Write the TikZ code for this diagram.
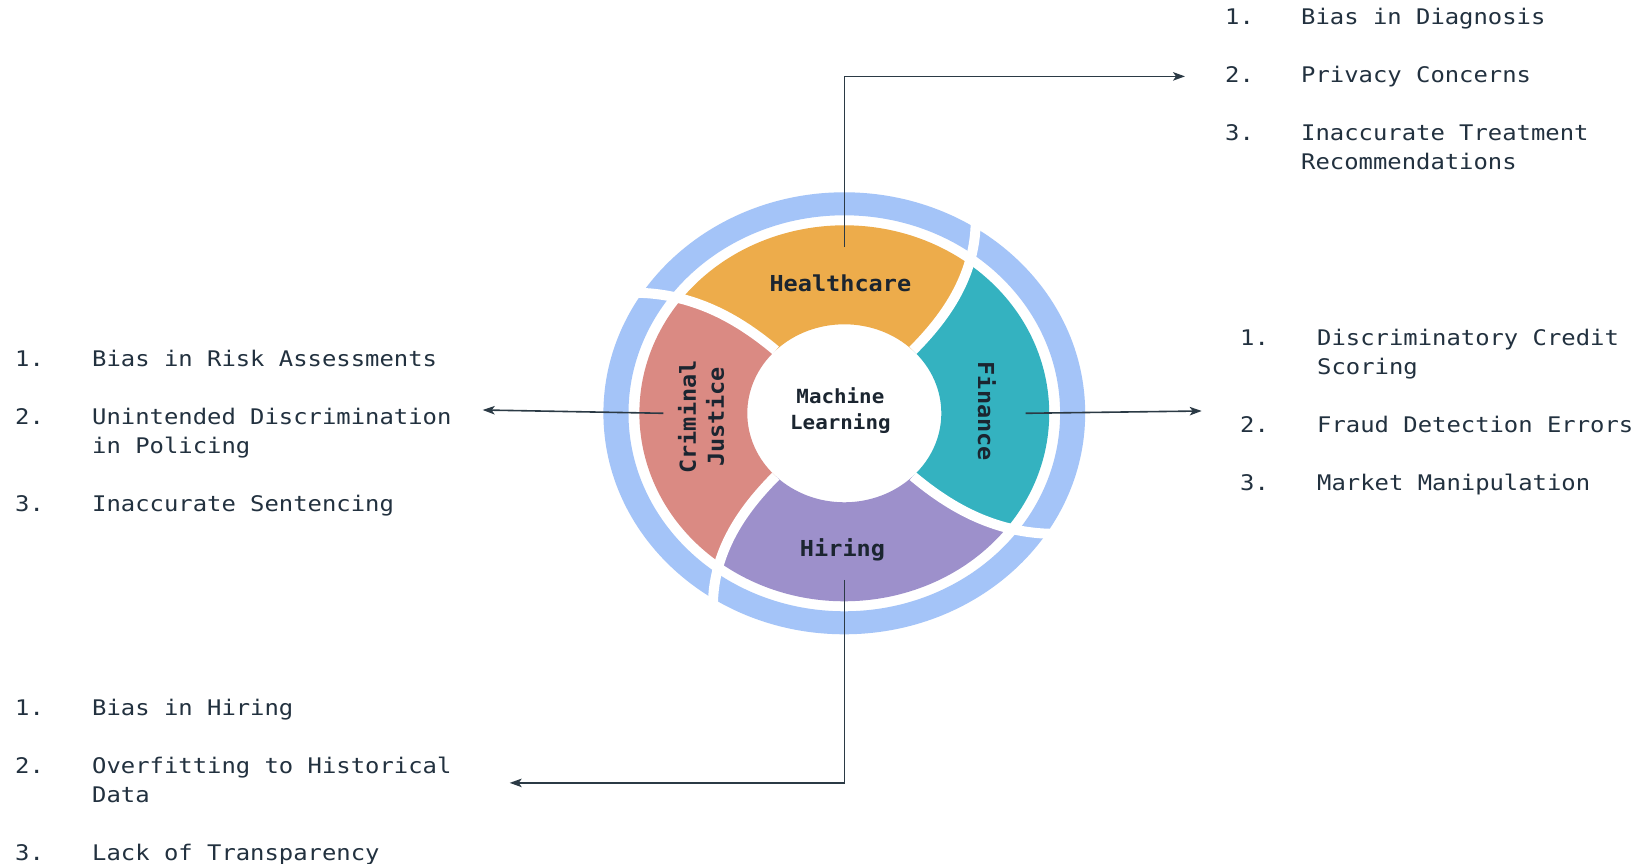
\documentclass[tikz,border=0pt]{standalone}
\usepackage{fontspec}
\newfontfamily\listfont{DejaVu Sans Mono}[FakeStretch=1.11]
\newfontfamily\wheelfont{DejaVu Sans Mono}[FakeStretch=1.07]
\usetikzlibrary{arrows.meta}
\definecolor{ringblue}{HTML}{A4C4F8}
\definecolor{hccol}{HTML}{EDAC4B}
\definecolor{fincol}{HTML}{34B2C0}
\definecolor{hircol}{HTML}{9D90CB}
\definecolor{cjcol}{HTML}{DA8A83}
\definecolor{txtdark}{HTML}{22313F}
\definecolor{labdark}{HTML}{1B2530}
\definecolor{linedark}{HTML}{2B3A45}
\tikzset{
  itemtxt/.style={anchor=base west, inner sep=0pt, text=txtdark,
    font=\listfont\fontsize{21.5}{29}\selectfont},
  seglabel/.style={inner sep=0pt, text=labdark, align=center,
    font=\wheelfont\bfseries\fontsize{22}{28}\selectfont},
  centerlabel/.style={inner sep=0pt, text=labdark, align=center,
    font=\wheelfont\bfseries\fontsize{19.5}{26}\selectfont},
  connector/.style={draw=linedark, line width=1.6pt,
    -{Stealth[length=12pt,width=8.5pt,inset=3pt]}},
  gapline/.style={draw=white, line width=10pt},
}
\begin{document}
\begin{tikzpicture}[x=1pt, y=1pt,
  declare function={spir(\x)=7.5*(0.4*((\x-89)/99)+0.6*((\x-89)/99)^2);}]
\useasboundingbox (0,0) rectangle (1641,864);
\fill[white] (0,0) rectangle (1641,864);

\begin{scope}[shift={(844.3,450.7)}, xscale=1.09]
  % outer blue ring
  \fill[ringblue, even odd rule] (0,0) circle[radius=221] (0,0) circle[radius=198];
  % Healthcare
  \fill[hccol] plot[domain=89:188, samples=30, variable=\rr] ({45+spir(\rr)}:\rr)
    arc[start angle=52.5, end angle=142.5, radius=188]
    -- plot[domain=188:89, samples=30, variable=\rr] ({135+spir(\rr)}:\rr)
    arc[start angle=135, end angle=45, radius=89] -- cycle;
  % Finance
  \fill[fincol] plot[domain=89:188, samples=30, variable=\rr] ({-45+spir(\rr)}:\rr)
    arc[start angle=-37.5, end angle=52.5, radius=188]
    -- plot[domain=188:89, samples=30, variable=\rr] ({45+spir(\rr)}:\rr)
    arc[start angle=45, end angle=-45, radius=89] -- cycle;
  % Hiring
  \fill[hircol] plot[domain=89:188, samples=30, variable=\rr] ({-135+spir(\rr)}:\rr)
    arc[start angle=-127.5, end angle=-37.5, radius=188]
    -- plot[domain=188:89, samples=30, variable=\rr] ({-45+spir(\rr)}:\rr)
    arc[start angle=-45, end angle=-135, radius=89] -- cycle;
  % Criminal Justice
  \fill[cjcol] plot[domain=89:188, samples=30, variable=\rr] ({135+spir(\rr)}:\rr)
    arc[start angle=142.5, end angle=232.5, radius=188]
    -- plot[domain=188:89, samples=30, variable=\rr] ({225+spir(\rr)}:\rr)
    arc[start angle=225, end angle=135, radius=89] -- cycle;
  % white gaps
  \foreach \a in {45,135,225,315}{
    \draw[gapline] plot[domain=89:228, samples=40, variable=\rr] ({\a+spir(\rr)}:\rr);
  }
\end{scope}

% wheel labels
\node[seglabel] (hc) at (840.4,581) {Healthcare};
\node[seglabel, rotate=-90] (fin) at (987,452.7) {Finance};
\node[seglabel] (hir) at (842.5,314.6) {Hiring};
\node[seglabel, rotate=90] (cj) at (701,447) {Criminal\\Justice};
\node[centerlabel] (ml) at (840.4,453.3) {Machine\\Learning};

% connector end points
\coordinate (hcA) at (844.3,617);
\coordinate (hcB) at (1185,787.6);
\coordinate (finA) at (1025.7,450.7);
\coordinate (finB) at (1201.7,453);
\coordinate (cjA) at (663.3,450.7);
\coordinate (cjB) at (482.7,454);
\coordinate (hirA) at (844.3,284);
\coordinate (hirB) at (509.7,81.1);

\draw[connector] (hcA) |- (hcB);
\draw[connector] (finA) -- (finB);
\draw[connector] (cjA) -- (cjB);
\draw[connector] (hirA) |- (hirB);

% Healthcare list
\node[itemtxt] (hc1n) at (1225,839) {1.};
\node[itemtxt] (hc1) at (1301,839) {Bias in Diagnosis};
\node[itemtxt] (hc2n) at (1225,781) {2.};
\node[itemtxt] (hc2) at (1301,781) {Privacy Concerns};
\node[itemtxt] (hc3n) at (1225,723) {3.};
\node[itemtxt] (hc3) at (1301,723) {Inaccurate Treatment};
\node[itemtxt] (hc3b) at (1301,694) {Recommendations};

% Finance list
\node[itemtxt] (fin1n) at (1240,518) {1.};
\node[itemtxt] (fin1) at (1317,518) {Discriminatory Credit};
\node[itemtxt] (fin1b) at (1317,489) {Scoring};
\node[itemtxt] (fin2n) at (1240,431) {2.};
\node[itemtxt] (fin2) at (1317,431) {Fraud Detection Errors};
\node[itemtxt] (fin3n) at (1240,373) {3.};
\node[itemtxt] (fin3) at (1317,373) {Market Manipulation};

% Criminal Justice list
\node[itemtxt] (cj1n) at (15,497) {1.};
\node[itemtxt] (cj1) at (92,497) {Bias in Risk Assessments};
\node[itemtxt] (cj2n) at (15,439) {2.};
\node[itemtxt] (cj2) at (92,439) {Unintended Discrimination};
\node[itemtxt] (cj2b) at (92,410) {in Policing};
\node[itemtxt] (cj3n) at (15,352) {3.};
\node[itemtxt] (cj3) at (92,352) {Inaccurate Sentencing};

% Hiring list
\node[itemtxt] (hir1n) at (15,148) {1.};
\node[itemtxt] (hir1) at (92,148) {Bias in Hiring};
\node[itemtxt] (hir2n) at (15,90) {2.};
\node[itemtxt] (hir2) at (92,90) {Overfitting to Historical};
\node[itemtxt] (hir2b) at (92,61) {Data};
\node[itemtxt] (hir3n) at (15,3) {3.};
\node[itemtxt] (hir3) at (92,3) {Lack of Transparency};
\end{tikzpicture}
\end{document}
